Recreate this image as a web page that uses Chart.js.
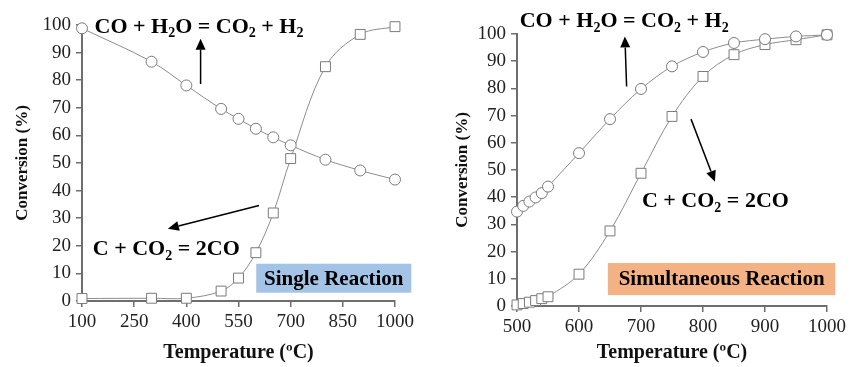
<!DOCTYPE html>
<html>
<head>
<meta charset="utf-8">
<script src="https://cdn.jsdelivr.net/npm/chart.js@4"></script>
<style>
  body { margin: 0; background: #fff; }
  .wrap { position: relative; width: 850px; height: 367px; }
  #left { position: absolute; left: 0; top: 0; }
  #right { position: absolute; left: 425px; top: 0; }
</style>
</head>
<body>
<div class="wrap">
  <canvas id="left" width="425" height="367"></canvas>
  <canvas id="right" width="425" height="367"></canvas>
</div>
<script>
// single reaction (left panel)
const leftTemps = [100, 300, 400, 500, 550, 600, 650, 700, 800, 900, 1000];
const leftShift = [98.8, 86.7, 78.1, 69.6, 66.0, 62.4, 59.3, 56.4, 51.2, 47.3, 44.0];
const leftGasif = [0.9, 1.0, 1.0, 3.6, 8.3, 17.5, 31.9, 51.6, 84.9, 96.6, 99.4];

// simultaneous reaction (right panel)
const rightTemps = [500, 510, 520, 530, 540, 550, 600, 650, 700, 750, 800, 850, 900, 950, 1000];
const rightShift = [34.7, 36.8, 38.4, 39.9, 41.5, 43.9, 56.2, 68.7, 79.8, 88.1, 93.4, 96.7, 98.1, 99.1, 99.7];
const rightGasif = [0.4, 0.9, 1.4, 2.0, 2.7, 3.4, 11.7, 27.6, 48.8, 69.7, 84.4, 92.4, 96.1, 97.9, 99.7];

const shiftLabel = [['CO + H', 0], ['2', 1], ['O = CO', 0], ['2', 1], [' + H', 0], ['2', 1]];
const gasifLabel = [['C + CO', 0], ['2', 1], [' = 2CO', 0]];

const FONT = '"Liberation Serif", "DejaVu Serif", "Times New Roman", serif';
const AXIS = '#6e6e6e';

function pts(xs, ys) {
    return xs.map((x, i) => ({ x: x, y: ys[i] }));
}

function rich(ctx, x, y, parts, size) {
    let cx = x;
    ctx.textBaseline = 'middle';
    ctx.textAlign = 'left';
    ctx.fillStyle = '#000';
    for (const [t, sub] of parts) {
        ctx.font = 'bold ' + (sub ? Math.round(size * 0.65) : size) + 'px ' + FONT;
        ctx.fillText(t, cx, sub ? y + size * 0.3 : y);
        cx += ctx.measureText(t).width;
    }
}

function arrow(ctx, x1, y1, x2, y2) {
    const a = Math.atan2(y2 - y1, x2 - x1);
    const len = 11, w = 5;
    ctx.strokeStyle = '#000';
    ctx.fillStyle = '#000';
    ctx.lineWidth = 1.5;
    ctx.beginPath();
    ctx.moveTo(x1, y1);
    ctx.lineTo(x2 - Math.cos(a) * len, y2 - Math.sin(a) * len);
    ctx.stroke();
    ctx.beginPath();
    ctx.moveTo(x2, y2);
    ctx.lineTo(x2 - Math.cos(a) * len - Math.sin(a) * w, y2 - Math.sin(a) * len + Math.cos(a) * w);
    ctx.lineTo(x2 - Math.cos(a) * len + Math.sin(a) * w, y2 - Math.sin(a) * len - Math.cos(a) * w);
    ctx.closePath();
    ctx.fill();
}

// annotations, given in data units of each panel
const notes = {
    id: 'notes',
    afterDraw(chart, args, o) {
        const ctx = chart.ctx, xs = chart.scales.x, ys = chart.scales.y;
        const px = v => xs.getPixelForValue(v), py = v => ys.getPixelForValue(v);
        ctx.save();
        for (const t of o.texts) rich(ctx, px(t.x), py(t.y), t.parts, 22);
        for (const a of o.arrows) arrow(ctx, px(a[0]), py(a[1]), px(a[2]), py(a[3]));
        const b = o.box;
        ctx.fillStyle = b.color;
        ctx.fillRect(px(b.x0), py(b.y0), px(b.x1) - px(b.x0), py(b.y1) - py(b.y0));
        ctx.fillStyle = '#000';
        ctx.font = 'bold 21px ' + FONT;
        ctx.textAlign = 'center';
        ctx.textBaseline = 'middle';
        ctx.fillText(b.text, (px(b.x0) + px(b.x1)) / 2, (py(b.y0) + py(b.y1)) / 2 + 1);
        ctx.restore();
    }
};

function series(data, style) {
    return {
        data: data,
        clip: false,
        borderColor: '#8c8c8c',
        borderWidth: 1,
        backgroundColor: '#fff',
        pointBackgroundColor: '#fff',
        pointBorderColor: '#7a7a7a',
        pointBorderWidth: 1,
        pointStyle: style,
        pointRadius: style === 'rect' ? 7 : 5.5,
        tension: 0.35
    };
}

function makeChart(id, opts) {
    return new Chart(document.getElementById(id), {
        type: 'line',
        data: {
            datasets: [
                series(pts(opts.temps, opts.shift), 'circle'),
                series(pts(opts.temps, opts.gasif), 'rect')
            ]
        },
        options: {
            responsive: false,
            animation: false,
            layout: { padding: opts.padding },
            plugins: {
                legend: { display: false },
                tooltip: { enabled: false },
                notes: opts.notes
            },
            scales: {
                x: {
                    type: 'linear',
                    min: opts.xmin, max: 1000,
                    afterFit: s => { s.height = opts.xh; },
                    border: { color: AXIS, width: 2 },
                    grid: { drawOnChartArea: false, color: AXIS, tickLength: 6, lineWidth: 1.5 },
                    ticks: { stepSize: opts.step, color: '#222', padding: 4, maxRotation: 0,
                             callback: v => String(v),
                             font: { family: FONT, size: 19 } },
                    title: { display: true, text: 'Temperature (ºC)', color: '#111',
                             font: { family: FONT, size: 20, weight: 'bold' },
                             padding: { top: 0, bottom: 2 } }
                },
                y: {
                    min: 0, max: 100,
                    afterFit: s => { s.width = opts.yw; },
                    border: { color: AXIS, width: 2 },
                    grid: { drawOnChartArea: false, color: AXIS, tickLength: 6, lineWidth: 1.5 },
                    ticks: { stepSize: 10, color: '#222', padding: 5,
                             font: { family: FONT, size: 19 } },
                    title: { display: true, text: 'Conversion (%)', color: '#111',
                             font: { family: FONT, size: 17, weight: 'bold' },
                             padding: { top: opts.ytp, bottom: 0 } }
                }
            }
        },
        plugins: [notes]
    });
}

makeChart('left', {
    temps: leftTemps, shift: leftShift, gasif: leftGasif,
    xmin: 100, step: 150, xh: 66, yw: 82, ytp: 12,
    padding: { top: 25, right: 30, bottom: 0, left: 0 },
    notes: {
        texts: [
            { x: 136, y: 99.3, parts: shiftLabel },
            { x: 131, y: 18.7, parts: gasifLabel }
        ],
        arrows: [[441, 78.6, 441, 95], [609, 34.6, 347, 26.2]],
        box: { x0: 601, x1: 1047, y0: 13.5, y1: 3.0, color: '#a3c4e6', text: 'Single Reaction' }
    }
});

makeChart('right', {
    temps: rightTemps, shift: rightShift, gasif: rightGasif,
    xmin: 500, step: 100, xh: 61, yw: 92, ytp: 27,
    padding: { top: 34, right: 23, bottom: 0, left: 0 },
    notes: {
        texts: [
            { x: 504.4, y: 104.5, parts: shiftLabel },
            { x: 701.5, y: 38.4, parts: gasifLabel }
        ],
        arrows: [[676.8, 80.7, 674, 99.1], [780.7, 68.7, 819.3, 45.7]],
        box: { x0: 646.6, x1: 1013.5, y0: 15.8, y1: 4.0, color: '#f4b183', text: 'Simultaneous Reaction' }
    }
});
</script>
</body>
</html>
